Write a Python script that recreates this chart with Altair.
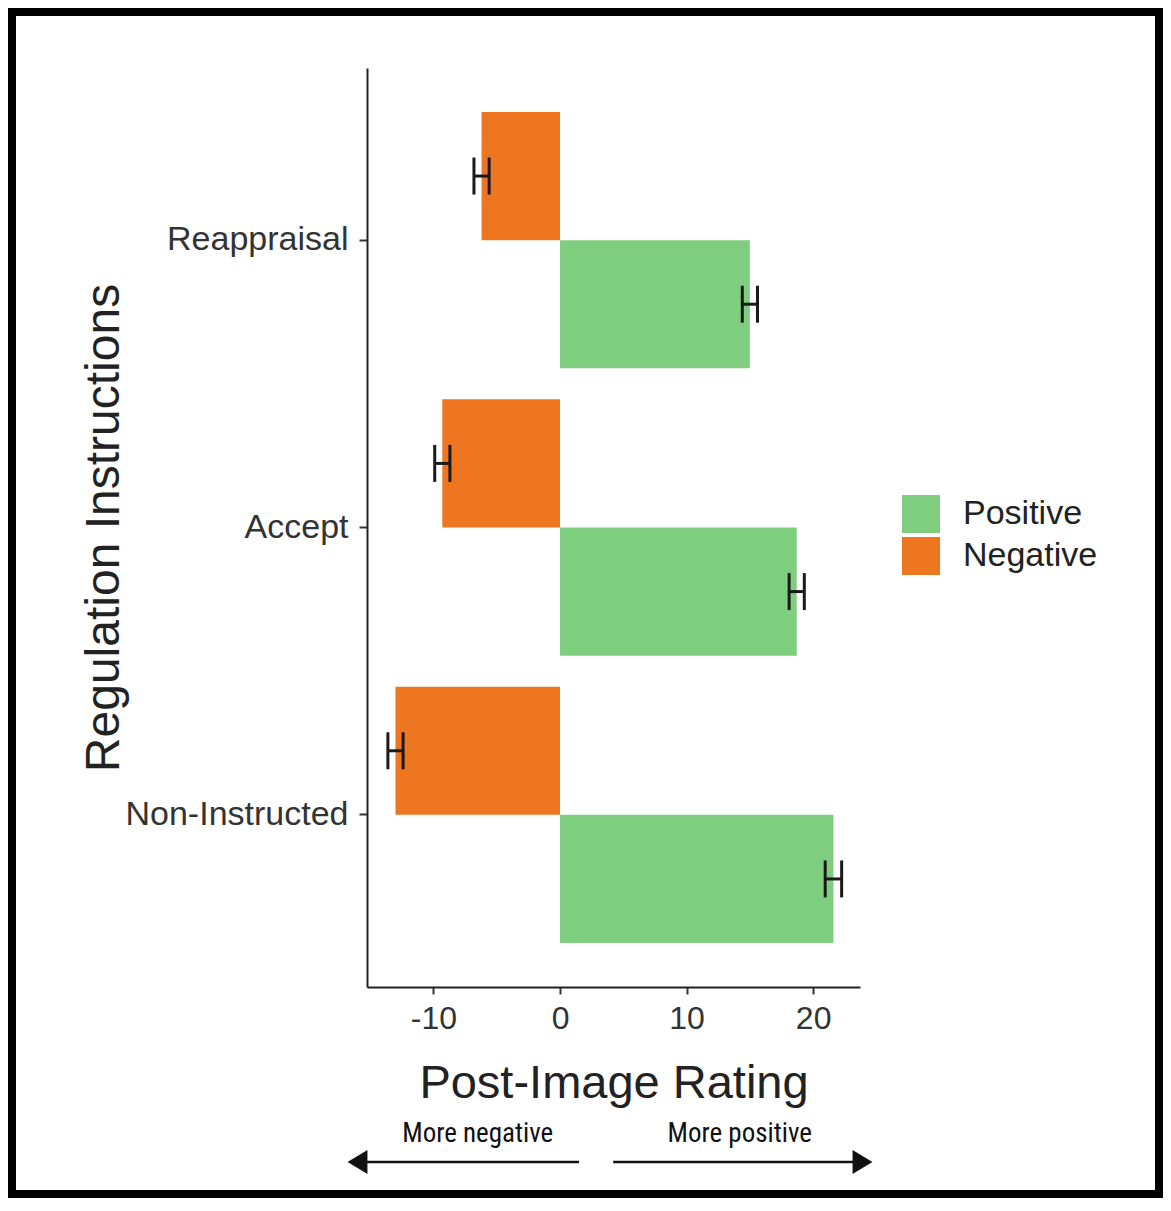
import altair as alt
import pandas as pd

# ---- data ----
categories = ["Reappraisal", "Accept", "Non-Instructed"]
valence = ["Positive", "Negative"]
positive_mean = [15.0, 18.7, 21.6]
positive_se = [0.6, 0.6, 0.65]
negative_mean = [-6.2, -9.3, -13.0]
negative_se = [0.6, 0.6, 0.6]
x_ticks = [-10, 0, 10, 20]
x_domain = [-15.25, 23.7]

annot_text = ["More negative", "More positive"]
annot_x = [-6.5, 14.2]          # centre of annotation text, in rating units
arrow_from = [1.5, 4.2]         # arrow start, rating units
arrow_to = [-16.0, 23.9]        # arrow head centre, rating units
arrow_head = ["M 0.83 -1 L -0.83 0 L 0.83 1 Z", "M -0.83 -1 L 0.83 0 L -0.83 1 Z"]

colors = ["#7FCD7F", "#EE7621"]
FONT = "Liberation Sans, Arial, Helvetica, sans-serif"
NARROW = "Roboto Condensed, Liberation Sans Narrow, Arial Narrow, DejaVu Sans Condensed, sans-serif"

rows = []
for i, c in enumerate(categories):
    rows.append(dict(cond=c, val="Positive", mean=positive_mean[i],
                     lo=positive_mean[i] - positive_se[i], hi=positive_mean[i] + positive_se[i]))
    rows.append(dict(cond=c, val="Negative", mean=negative_mean[i],
                     lo=negative_mean[i] - negative_se[i], hi=negative_mean[i] + negative_se[i]))
df = pd.DataFrame(rows)

annot_df = pd.DataFrame({"label": annot_text, "ax": annot_x})
arrow_df = pd.DataFrame({"a0": arrow_from, "a1": arrow_to, "head": arrow_head})

x_axis = alt.Axis(values=x_ticks, title="Post-Image Rating", grid=False,
                  labelExpr="'' + datum.value",
                  tickSize=7, labelPadding=9, labelFontSize=32, titleFontSize=47,
                  titlePadding=26, labelColor="#333333", titleColor="#222222",
                  titleFontWeight="normal", labelFont=FONT, titleFont=FONT)
x_scale = alt.Scale(domain=x_domain, nice=False, zero=False)


def X(field):
    return alt.X(field, type="quantitative", scale=x_scale, axis=x_axis)


y_enc = alt.Y("cond:N", sort=categories,
              scale=alt.Scale(paddingInner=0.108, paddingOuter=0.153),
              axis=alt.Axis(title="Regulation Instructions", grid=False,
                            tickSize=8, labelPadding=11, labelFontSize=34,
                            labelLimit=400,
                            titleFontSize=48, titleX=-239,
                            labelColor="#333333", titleColor="#222222",
                            titleFontWeight="normal", labelFont=FONT, titleFont=FONT))
y_off = alt.YOffset("val:N", sort=["Negative", "Positive"],
                    scale=alt.Scale(paddingInner=0, paddingOuter=0))

bars = alt.Chart(df).mark_bar().encode(
    x=X("mean"),
    y=y_enc,
    yOffset=y_off,
    color=alt.Color("val:N", scale=alt.Scale(domain=valence, range=colors),
                    legend=alt.Legend(title=None, orient="none", legendX=535, legendY=427,
                                      symbolType="square", symbolSize=1444,
                                      symbolStrokeWidth=0, labelFontSize=34,
                                      labelOffset=23, rowPadding=4, padding=0,
                                      labelFont=FONT, labelColor="#222222")),
)

err_line = alt.Chart(df).mark_rule(color="#1a1a1a", strokeWidth=3, opacity=1).encode(
    x=X("lo"), x2="hi:Q", y=y_enc, yOffset=y_off)

err_caps = alt.Chart(df).transform_fold(["lo", "hi"], as_=["end", "xv"]).mark_tick(
    color="#1a1a1a", size=37, thickness=3, opacity=1).encode(
    x=X("xv"), y=y_enc, yOffset=y_off)

annot = alt.Chart(annot_df).mark_text(font=NARROW, fontSize=27, baseline="alphabetic",
                                      color="#111111").encode(
    x=X("ax"), y=alt.value(1074), text="label:N")

arrow_lines = alt.Chart(arrow_df).mark_rule(color="#111111", strokeWidth=2.5).encode(
    x=X("a0"), x2="a1:Q", y=alt.value(1094))

arrow_heads = alt.Chart(arrow_df).mark_point(filled=True, size=576, opacity=1,
                                             color="#111111").encode(
    x=X("a1"), y=alt.value(1094), shape=alt.Shape("head:N", scale=None))

frame = alt.Chart(pd.DataFrame({"f": [0]})).mark_rect(
    fillOpacity=0, stroke="black", strokeWidth=8).encode(
    x=alt.value(-355), x2=alt.value(792), y=alt.value(-56), y2=alt.value(1126))

chart = alt.layer(bars, err_line, err_caps, annot, arrow_lines, arrow_heads, frame).properties(
    width=493, height=919,
    autosize=alt.AutoSizeParams(type="none"),
    padding={"left": 359, "top": 60, "right": 303, "bottom": 211},
).configure_view(strokeWidth=0).configure_axis(
    domainColor="#222222", domainWidth=2, tickColor="#333333", tickWidth=2
)

chart.save("out.html", embed_options={"renderer": "svg", "actions": False})
